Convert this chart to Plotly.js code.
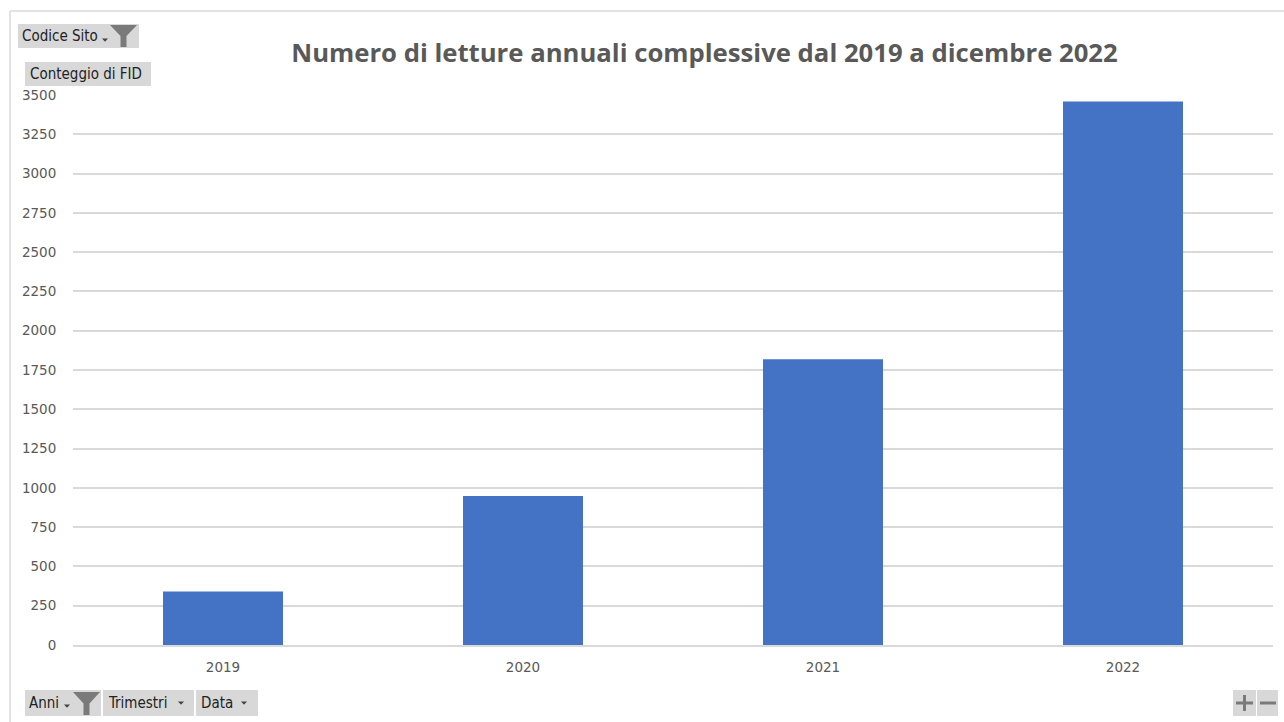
<!DOCTYPE html>
<html>
<head>
<meta charset="utf-8">
<script src="https://cdn.plot.ly/plotly-3.0.1.min.js"></script>
<style>
html,body{margin:0;padding:0;background:#fff;}
#chart{width:1284px;height:722px;}
</style>
</head>
<body>
<div id="chart"></div>
<script>
// ---- data ----
const years = ['2019', '2020', '2021', '2022'];
const counts = [340, 948, 1818, 3458];
const yTickValues = [0, 250, 500, 750, 1000, 1250, 1500, 1750, 2000, 2250, 2500, 2750, 3000, 3250, 3500];
const chartTitle = 'Numero di letture annuali complessive dal 2019 a dicembre 2022';
const topButtons = ['Codice Sito', 'Conteggio di FID'];
const bottomButtons = ['Anni', 'Trimestri', 'Data'];

// ---- layout geometry (pixels) ----
const W = 1284, H = 722;
const L = 73, R = 1273, T = 95, B = 645;
const px = x => (x - L) / (R - L);
const py = y => (B - y) / (B - T);

const btnFill = '#d8d8d8';
const iconCol = '#7a7a7a';
const btnFont = {family: '"DejaVu Sans Condensed", "DejaVu Sans", sans-serif', size: 15, color: '#222222'};

const shapes = [];
const annotations = [];

function rect(x0, y0, x1, y1, fill) {
  shapes.push({type: 'rect', xref: 'paper', yref: 'paper', layer: 'above',
    x0: px(x0), x1: px(x1), y0: py(y1), y1: py(y0),
    fillcolor: fill, line: {width: 0}});
}
function path(points, fill) {
  const d = points.map((p, i) => (i ? 'L' : 'M') + px(p[0]) + ',' + py(p[1])).join(' ') + ' Z';
  shapes.push({type: 'path', xref: 'paper', yref: 'paper', layer: 'above', path: d,
    fillcolor: fill, line: {width: 0}});
}
function line(x0, y0, x1, y1, col, w) {
  shapes.push({type: 'line', xref: 'paper', yref: 'paper', layer: 'above',
    x0: px(x0), x1: px(x1), y0: py(y0), y1: py(y1), line: {color: col, width: w}});
}
function label(text, x, y) {
  annotations.push({text: text, xref: 'paper', yref: 'paper', x: px(x), y: py(y),
    xanchor: 'left', yanchor: 'middle', showarrow: false, font: btnFont});
}
function arrowDown(cx, cy) {
  path([[cx - 3, cy - 1.5], [cx + 3, cy - 1.5], [cx, cy + 1.8]], '#444444');
}
function funnel(x0, y0, x1, y1) {
  const cx = (x0 + x1) / 2;
  path([[x0, y0], [x1, y0], [cx + 3, y0 + (y1 - y0) * 0.5], [cx + 3, y1], [cx - 3, y1], [cx - 3, y0 + (y1 - y0) * 0.5]], iconCol);
}

// outer frame
line(10, 11, 1284, 11, '#d9d9d9', 1.5);
line(10, 11, 10, 722, '#d9d9d9', 1.5);

// top-left buttons
rect(18, 24, 139, 48, btnFill);
label(topButtons[0], 20, 36);
arrowDown(105, 40);
funnel(110, 25, 137, 47);

rect(25, 62, 151, 86, btnFill);
label(topButtons[1], 28, 74);

// bottom buttons
rect(25, 690, 101, 716, btnFill);
label(bottomButtons[0], 27, 703);
arrowDown(67, 706);
funnel(73, 692, 100, 715);

rect(103, 690, 194, 716, btnFill);
label(bottomButtons[1], 106, 703);
arrowDown(181, 703);

rect(196, 690, 258, 716, btnFill);
label(bottomButtons[2], 199, 703);
arrowDown(244, 703);

// +/- buttons
rect(1233, 690, 1256, 716, btnFill);
rect(1257, 690, 1278, 716, btnFill);
line(1236, 703, 1253, 703, iconCol, 3);
line(1244.5, 695, 1244.5, 711, iconCol, 3);
line(1260, 703, 1276, 703, iconCol, 3);

const tickFont = {family: '"DejaVu Sans", sans-serif', size: 13.5, color: '#595959'};

const data = [{
  type: 'bar',
  x: years,
  y: counts,
  marker: {color: '#4472c4', line: {width: 0}},
  hoverinfo: 'x+y'
}];

const layout = {
  width: W, height: H,
  margin: {l: L, r: W - R, t: T, b: H - B, pad: 0},
  paper_bgcolor: '#ffffff',
  plot_bgcolor: '#ffffff',
  showlegend: false,
  bargap: 0.6,
  title: {
    text: '<b>' + chartTitle + '</b>',
    font: {family: '"Open Sans", sans-serif', size: 25.7, color: '#595959'},
    xref: 'container', yref: 'container',
    x: 704.5 / W, xanchor: 'center',
    y: 1 - 53 / H, yanchor: 'middle'
  },
  xaxis: {
    type: 'category',
    range: [-0.5, 3.5],
    showgrid: false,
    showline: true, linecolor: '#d9d9d9', linewidth: 1.5,
    ticks: 'outside', ticklen: 9, tickcolor: 'rgba(0,0,0,0)',
    tickfont: tickFont,
    fixedrange: true
  },
  yaxis: {
    range: [0, 3500],
    tickvals: yTickValues,
    ticktext: yTickValues.map(String),
    showgrid: true, gridcolor: '#d9d9d9', gridwidth: 1.5,
    zeroline: false, showline: false,
    ticks: 'outside', ticklen: 13, tickcolor: 'rgba(0,0,0,0)',
    tickfont: tickFont,
    fixedrange: true
  },
  shapes: shapes,
  annotations: annotations
};

Plotly.newPlot('chart', data, layout, {displayModeBar: false, responsive: false});
</script>
</body>
</html>
